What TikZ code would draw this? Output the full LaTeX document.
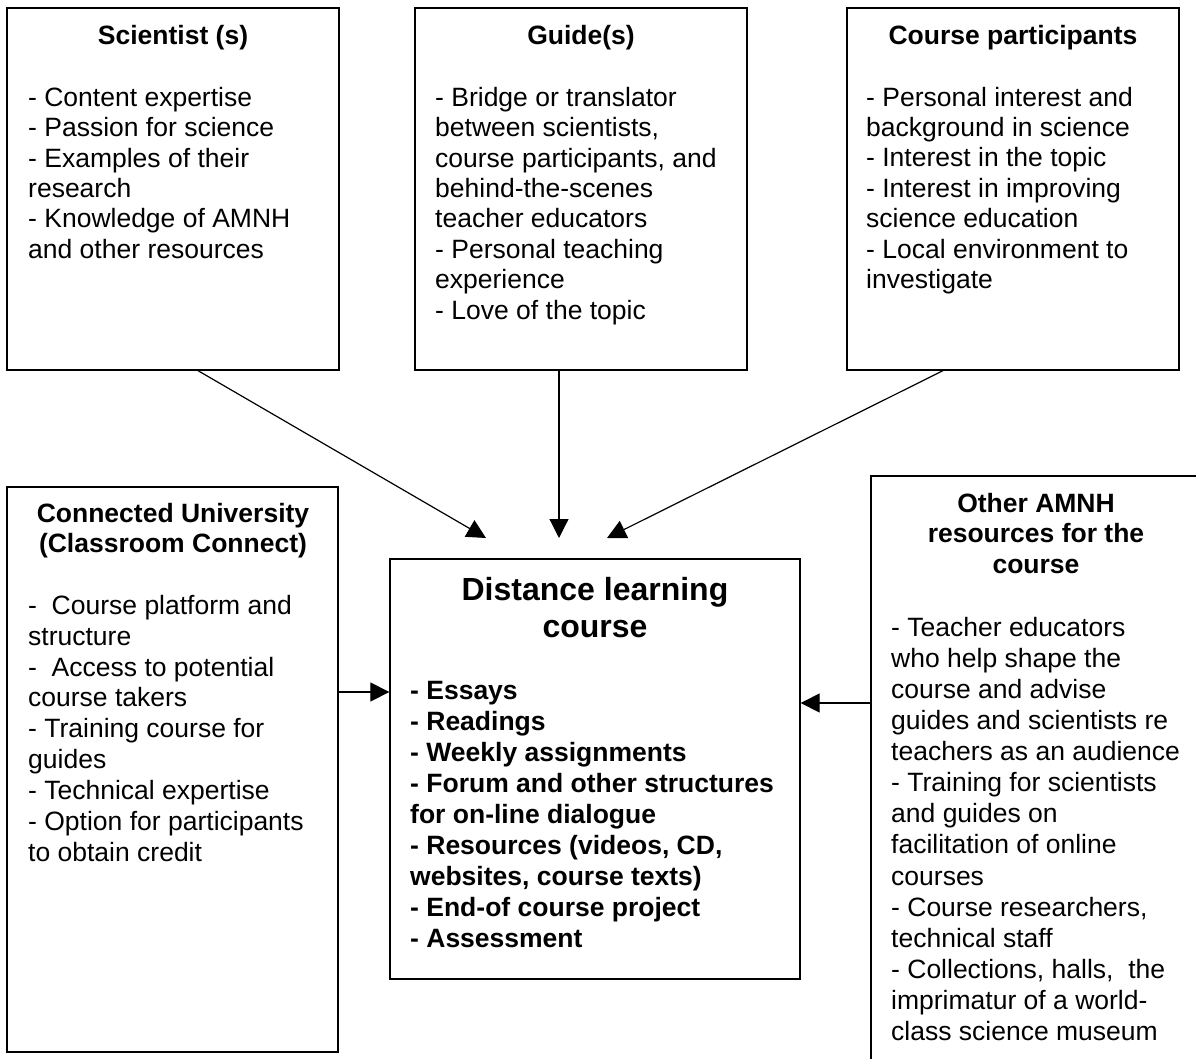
\documentclass[tikz,border=0pt]{standalone}
\usepackage{fontspec}
\setmainfont{Liberation Sans}
\usetikzlibrary{arrows.meta,calc}
\begin{document}
\begin{tikzpicture}[x=1pt,y=-1pt,
  box/.style={draw,line width=1.3pt,inner sep=0pt,rectangle},
  ttl/.style={font=\fontsize{26.5}{30.6}\selectfont\bfseries,align=center,anchor=north,inner sep=0pt},
  lst/.style={font=\fontsize{26.5}{30.4}\selectfont,align=left,anchor=north west,inner sep=0pt},
  arr/.style={line width=1.2pt,-{Triangle[length=19pt,width=19pt]}}]
\useasboundingbox (0,0) rectangle (1196,1059);
\clip (0,0) rectangle (1196,1059);
\fill[white] (0,0) rectangle (1196,1059);

% boxes
\node[box,minimum width=332pt,minimum height=362pt] (sci) at (173,189) {};
\node[box,minimum width=332pt,minimum height=362pt] (guide) at (581,189) {};
\node[box,minimum width=332pt,minimum height=362pt] (part) at (1013,189) {};
\node[box,minimum width=331pt,minimum height=565pt] (conn) at (172.5,769.5) {};
\node[box,minimum width=410pt,minimum height=420pt] (dl) at (595,769) {};
\node[box,minimum width=329pt,minimum height=604pt] (other) at (1035.5,778) {};

% titles
\node[ttl] (scit) at (173,24) {\rule{0pt}{20pt}Scientist (s)};
\node[ttl] (guidet) at (581,24) {\rule{0pt}{20pt}Guide(s)};
\node[ttl] (partt) at (1013,24) {\rule{0pt}{20pt}Course participants};
\node[ttl] (connt) at (173,502) {\rule{0pt}{20pt}Connected University\\(Classroom Connect)};
\node[ttl] (othert) at (1036,492) {\rule{0pt}{20pt}Other AMNH\\resources for the\\course};
\node[font=\fontsize{32}{37}\selectfont\bfseries,align=center,anchor=north,inner sep=0pt] (dlt) at (595,576) {\rule{0pt}{24pt}Distance learning\\course};

% lists
\node[lst] (scil) at (28,86) {\rule{0pt}{20pt}- Content expertise\\- Passion for science\\- Examples of their\\research\\- Knowledge of AMNH\\and other resources};
\node[lst] (guidel) at (435,86) {\rule{0pt}{20pt}- Bridge or translator\\between scientists,\\course participants, and\\behind-the-scenes\\teacher educators\\- Personal teaching\\experience\\- Love of the topic};
\node[lst] (partl) at (866,86) {\rule{0pt}{20pt}- Personal interest and\\background in science\\- Interest in the topic\\- Interest in improving\\science education\\- Local environment to\\investigate};
\node[lst,font=\fontsize{26.5}{30.9}\selectfont] (connl) at (28,594) {\rule{0pt}{20pt}-\ \ Course platform and\\structure\\-\ \ Access to potential\\course takers\\- Training course for\\guides\\- Technical expertise\\- Option for participants\\to obtain credit};
\node[lst,font=\fontsize{26.5}{31.1}\selectfont] (otherl) at (891,616) {\rule{0pt}{20pt}- Teacher educators\\who help shape the\\course and advise\\guides and scientists re\\teachers as an audience\\- Training for scientists\\and guides on\\facilitation of online\\courses\\- Course researchers,\\technical staff\\- Collections, halls,\ \ the\\imprimatur of a world-\\class science museum};
\node[lst,font=\fontsize{26.5}{31}\selectfont\bfseries] (dll) at (410,679) {\rule{0pt}{20pt}- Essays\\- Readings\\- Weekly assignments\\- Forum and other structures\\for on-line dialogue\\- Resources (videos, CD,\\websites, course texts)\\- End-of course project\\- Assessment};

% arrow tips and levels
\coordinate (tipA) at (486,538);
\coordinate (tipB) at (559,538);
\coordinate (tipC) at (607,538);
\coordinate (yL) at (0,692);
\coordinate (yR) at (0,703);

\draw[arr] ($(sci.south)+(25,0)$) -- (tipA);
\draw[arr] ($(guide.south)+(-22,0)$) -- (tipB);
\draw[arr] ($(part.south)+(-70,0)$) -- (tipC);
\draw[arr] (conn.east |- yL) -- (dl.west |- yL);
\draw[arr] (other.west |- yR) -- (dl.east |- yR);
\end{tikzpicture}
\end{document}
